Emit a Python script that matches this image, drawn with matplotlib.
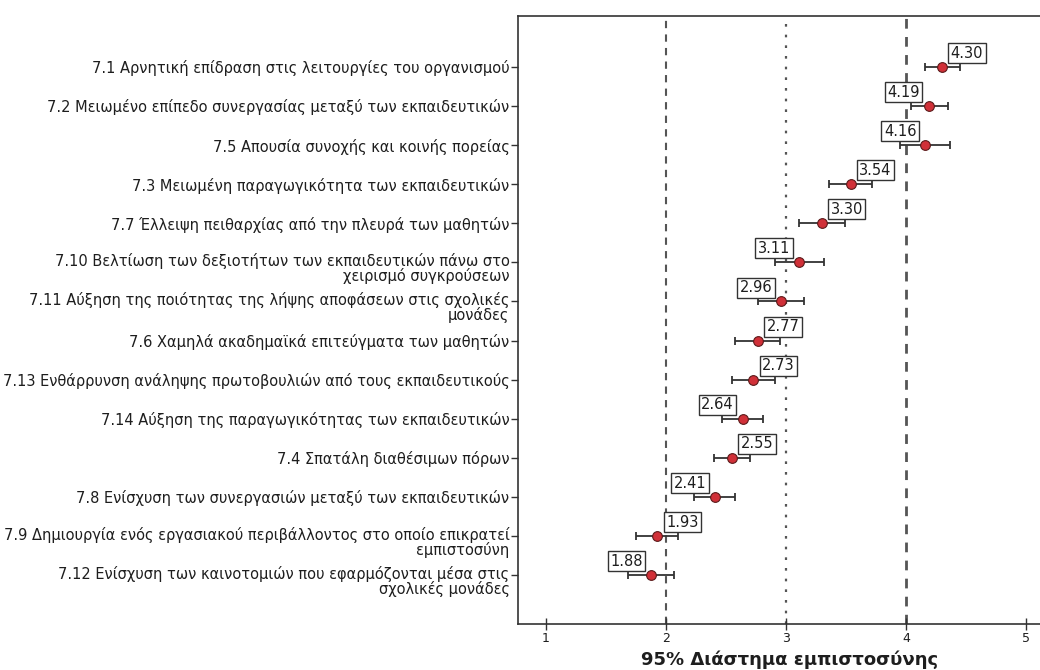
import matplotlib
matplotlib.use("Agg")
import matplotlib.pyplot as plt
from matplotlib.transforms import blended_transform_factory

# items, top to bottom
items = [
    "7.1 Αρνητική επίδραση στις λειτουργίες του οργανισμού",
    "7.2 Μειωμένο επίπεδο συνεργασίας μεταξύ των εκπαιδευτικών",
    "7.5 Απουσία συνοχής και κοινής πορείας",
    "7.3 Μειωμένη παραγωγικότητα των εκπαιδευτικών",
    "7.7 Έλλειψη πειθαρχίας από την πλευρά των μαθητών",
    "7.10 Βελτίωση των δεξιοτήτων των εκπαιδευτικών πάνω στο\nχειρισμό συγκρούσεων",
    "7.11 Αύξηση της ποιότητας της λήψης αποφάσεων στις σχολικές\nμονάδες",
    "7.6 Χαμηλά ακαδημαϊκά επιτεύγματα των μαθητών",
    "7.13 Ενθάρρυνση ανάληψης πρωτοβουλιών από τους εκπαιδευτικούς",
    "7.14 Αύξηση της παραγωγικότητας των εκπαιδευτικών",
    "7.4 Σπατάλη διαθέσιμων πόρων",
    "7.8 Ενίσχυση των συνεργασιών μεταξύ των εκπαιδευτικών",
    "7.9 Δημιουργία ενός εργασιακού περιβάλλοντος στο οποίο επικρατεί\nεμπιστοσύνη",
    "7.12 Ενίσχυση των καινοτομιών που εφαρμόζονται μέσα στις\nσχολικές μονάδες",
]
means = [4.30, 4.19, 4.16, 3.54, 3.30, 3.11, 2.96, 2.77, 2.73, 2.64, 2.55, 2.41, 1.93, 1.88]
ci_low = [4.16, 4.04, 3.95, 3.36, 3.11, 2.91, 2.77, 2.58, 2.55, 2.47, 2.40, 2.24, 1.75, 1.69]
ci_high = [4.45, 4.35, 4.37, 3.72, 3.49, 3.32, 3.15, 2.95, 2.91, 2.81, 2.70, 2.58, 2.10, 2.07]
# which side of the point the value box sits on (+1 right, -1 left)
label_side = [1, -1, -1, 1, 1, -1, -1, 1, 1, -1, 1, -1, 1, -1]

plt.rcParams["font.family"] = ["DejaVu Sans"]
INK = "#1e1e1e"
LINE = "#555555"

fig = plt.figure(figsize=(10.4, 6.7), dpi=100)
ax = fig.add_axes([0.498, 0.0687, 0.522, 0.9073])

n = len(items)
ypos = [n - 1 - i for i in range(n)]

# reference lines
ax.axvline(2, color=LINE, lw=1.5, dashes=(3.5, 3), zorder=1)
ax.axvline(3, color=LINE, lw=1.6, dashes=(1.2, 3.6), zorder=1)
ax.axvline(4, color=LINE, lw=2.0, dashes=(3.5, 3), zorder=1)

xerr = [[m - lo for m, lo in zip(means, ci_low)],
        [hi - m for m, hi in zip(means, ci_high)]]
ax.errorbar(means, ypos, xerr=xerr, fmt="none", ecolor="#333333",
            elinewidth=1.3, capsize=3, capthick=1.3, zorder=2)
ax.plot(means, ypos, "o", color="#d03038", markeredgecolor="#5a1a1a",
        markeredgewidth=0.8, markersize=7, zorder=3)

for m, y, s in zip(means, ypos, label_side):
    ax.annotate(f"{m:.2f}", xy=(m, y), xytext=(18 * s, 10),
                textcoords="offset points", ha="center", va="center",
                fontsize=10.5, color=INK, zorder=4,
                bbox=dict(boxstyle="square,pad=0.17", fc="white",
                          ec="#333333", lw=1.0))

ax.set_xlim(0.77, 5.29)
ax.set_ylim(-1.25, n - 1 + 1.3)
ax.set_xticks([1, 2, 3, 4, 5])
ax.set_yticks(ypos)
ax.set_yticklabels([])

# category labels drawn by hand so two-line ones keep line 1 on the tick
trans = blended_transform_factory(ax.transAxes, ax.transData)
for txt, y in zip(items, ypos):
    if "\n" in txt:
        ax.annotate(txt, xy=(0, y), xycoords=trans, xytext=(-6, 6.5),
                    textcoords="offset points", ha="right", va="top",
                    multialignment="right", linespacing=0.9,
                    fontsize=10.5, color=INK, annotation_clip=False)
    else:
        ax.annotate(txt, xy=(0, y), xycoords=trans, xytext=(-6, 0),
                    textcoords="offset points", ha="right",
                    va="center_baseline", fontsize=10.5, color=INK,
                    annotation_clip=False)

ax.tick_params(axis="y", length=5, width=1.0, color="#333333", pad=1)
ax.tick_params(axis="x", direction="inout", length=8, width=1.0,
               color="#333333", labelsize=9, labelcolor=INK, pad=2)

for side in ("left", "top", "bottom"):
    ax.spines[side].set_color("#333333")
    ax.spines[side].set_linewidth(1.2)
ax.spines["right"].set_visible(False)

ax.set_xlabel("95% Διάστημα εμπιστοσύνης", fontsize=13, fontweight="bold",
              color=INK, labelpad=4)

fig.savefig("out.png", dpi=100)
